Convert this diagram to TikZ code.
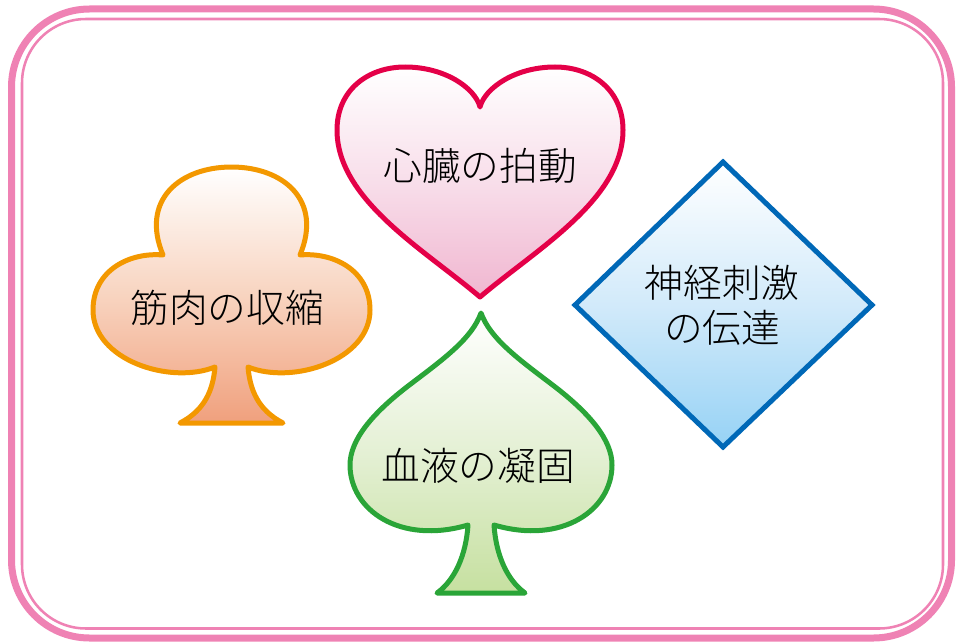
\documentclass[tikz,border=0pt]{standalone}
\usepackage{fontspec}
\IfFontExistsTF{Noto Sans CJK JP Light}{\setmainfont{Noto Sans CJK JP Light}}{\setmainfont{Noto Sans CJK JP}}
\definecolor{framepink}{RGB}{239,130,180}
\definecolor{heartred}{RGB}{228,0,72}
\definecolor{heartfill}{RGB}{240,182,208}
\definecolor{heartmid}{RGB}{248,222,234}
\definecolor{cluborange}{RGB}{243,152,0}
\definecolor{clubfill}{RGB}{240,160,125}
\definecolor{clubmid}{RGB}{248,212,192}
\definecolor{spadegreen}{RGB}{42,165,56}
\definecolor{spadefill}{RGB}{198,224,160}
\definecolor{spademid}{RGB}{228,240,212}
\definecolor{diablue}{RGB}{0,104,183}
\definecolor{diafill}{RGB}{150,210,245}
\definecolor{diamid}{RGB}{210,234,250}
\tikzset{
  shapeline/.style={line width=3.75pt, line join=round},
  lbl/.style={font=\fontsize{29}{35}\selectfont, align=center, inner sep=0pt, text=black},
}
\begin{document}
\begin{tikzpicture}[x=0.75pt,y=-0.75pt]
\useasboundingbox (0,0) rectangle (956,642);
% frame
\draw[framepink, line width=5.25pt, rounded corners=58.5pt] (11.5,9) rectangle (951.5,638);
\draw[framepink, line width=1.9pt, rounded corners=48pt] (22,19) rectangle (943,628.5);
% heart
\draw[heartred, shapeline, top color=white, bottom color=heartfill, middle color=heartmid]
  (480,297) .. controls (425,250) and (337,200) .. (337,130)
  .. controls (337,90) and (368,67) .. (405,67)
  .. controls (445,67) and (475,88) .. (480,107)
  .. controls (485,88) and (515,67) .. (555,67)
  .. controls (592,67) and (623,90) .. (623,130)
  .. controls (623,200) and (535,250) .. (480,297) -- cycle;
\node[lbl] (heart) at (480,166) {心臓の拍動};
% club
\draw[cluborange, shapeline, top color=white, bottom color=clubfill, middle color=clubmid]
  (180,423) -- (283,423)
  .. controls (258,410) and (250,390) .. (248,367)
  .. controls (293,385) and (370,360) .. (370,310)
  .. controls (370,270) and (333,252) .. (300,255)
  .. controls (323,200) and (283,167) .. (231.5,167)
  .. controls (180,167) and (140,200) .. (163,255)
  .. controls (130,252) and (93,270) .. (93,310)
  .. controls (93,360) and (170,385) .. (215,367)
  .. controls (213,390) and (205,410) .. (180,423) -- cycle;
\node[lbl] (club) at (227,308) {筋肉の収縮};
% spade
\draw[spadegreen, shapeline, top color=white, bottom color=spadefill, middle color=spademid]
  (481,313) .. controls (472,338) and (445,358) .. (412,383)
  .. controls (372,413) and (350,440) .. (350,465)
  .. controls (350,510) and (400,545) .. (468,525)
  .. controls (466,555) and (455,580) .. (437,593)
  -- (525,593)
  .. controls (507,580) and (496,555) .. (494,525)
  .. controls (562,545) and (612,510) .. (612,465)
  .. controls (612,440) and (590,413) .. (550,383)
  .. controls (517,358) and (490,338) .. (481,313) -- cycle;
\node[lbl] (spade) at (478,466) {血液の凝固};
% diamond
\draw[diablue, line width=3.75pt, line join=miter, top color=white, bottom color=diafill, middle color=diamid]
  (723,162) -- (872,305) -- (723,447) -- (575,305) -- cycle;
\node[lbl, font=\fontsize{29}{34}\selectfont] (dia) at (722,305) {神経刺激\\の伝達};
\end{tikzpicture}
\end{document}
